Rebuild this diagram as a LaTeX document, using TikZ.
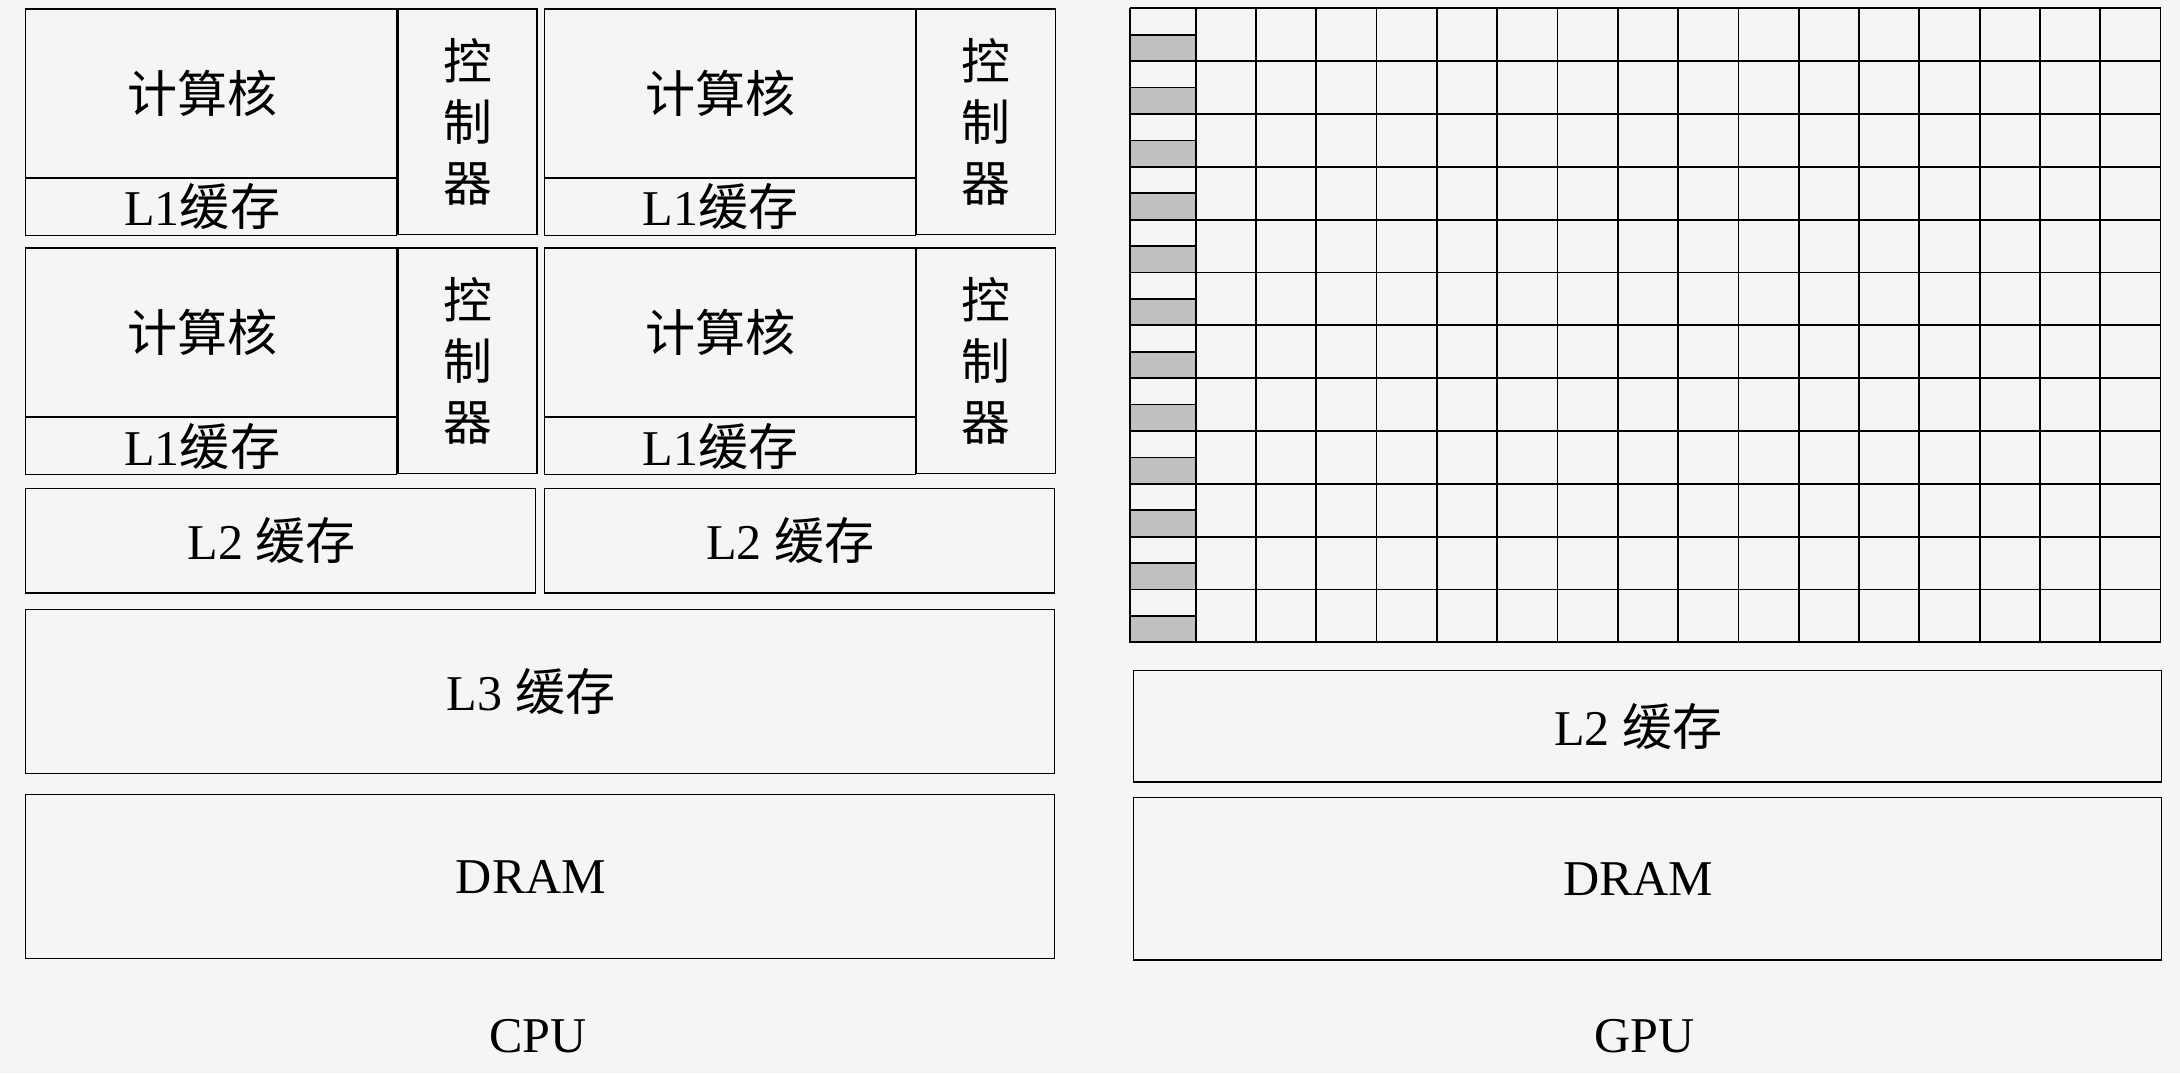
\documentclass[tikz,border=0pt]{standalone}
\usepackage{fontspec}
\setmainfont{Liberation Serif}
\newfontfamily\zhfont{Noto Sans CJK SC}
\usetikzlibrary{positioning}
\definecolor{bgpage}{RGB}{245,245,247}
\definecolor{cellgray}{RGB}{192,192,192}
\newcommand{\zh}[1]{{\zhfont #1}}

\begin{document}
\begin{tikzpicture}[x=0.02cm, y=-0.02cm, every node/.style={font=\fontsize{20.5}{25}\selectfont}]
        \tikzstyle{frame} = [rectangle, draw=black, line width=0.5pt, inner sep=0pt, anchor=north west]
        \tikzstyle{blk} = [frame, execute at end node={\hspace*{0.26cm}}]
        \tikzstyle{ctl} = [frame, align=center, font=\fontsize{20}{25}\selectfont\zhfont]
        \tikzstyle{cell} = [draw=black, line width=0.7pt]

        \fill[bgpage] (0,0) rectangle (1568,772);

        \foreach \cx/\cy [count=\i] in {18/6, 391/6, 18/178, 391/178}{
          \node[blk, minimum width=267*0.02cm, minimum height=121*0.02cm] (core\i) at (\cx,\cy) {\zh{计算核}};
          \node[blk, minimum width=267*0.02cm, minimum height=41*0.02cm] (lone\i) at (core\i.south west) {L1\zh{缓存}};
          \node[ctl, minimum width=100*0.02cm, minimum height=162*0.02cm] (ctrl\i) at (core\i.north east) {控\\制\\器};
        }

        \foreach \cx [count=\i] in {18, 391}
          \node[blk, minimum width=367*0.02cm, minimum height=75*0.02cm] (ltwo\i) at (\cx,351) {L2 \zh{缓存}};

        \node[blk, minimum width=740*0.02cm, minimum height=118*0.02cm] (lthree) at (18,438) {L3 \zh{缓存}};
        \node[blk, minimum width=740*0.02cm, minimum height=118*0.02cm] (cdram) at (18,571) {DRAM};
        \node (cpu) at (387,745) {CPU};

        \foreach \r in {0,...,11}
          \draw[cell, fill=cellgray] (813,{25+38*\r}) rectangle (860,{44+38*\r});
        \foreach \r in {0,...,12}
          \draw[cell] (813,{6+38*\r}) -- (1554,{6+38*\r});
        \draw[cell] (813,6) -- (813,462);
        \foreach \c in {0,...,16}
          \draw[cell] ({860+43.375*\c},6) -- ({860+43.375*\c},462);

        \node[blk, minimum width=739*0.02cm, minimum height=80*0.02cm] (gltwo) at (815,482) {L2 \zh{缓存}};
        \node[blk, minimum width=739*0.02cm, minimum height=117*0.02cm] (gdram) at (815,573) {DRAM};
        \node (gpu) at (1183,745) {GPU};
      \end{tikzpicture}
\end{document}
